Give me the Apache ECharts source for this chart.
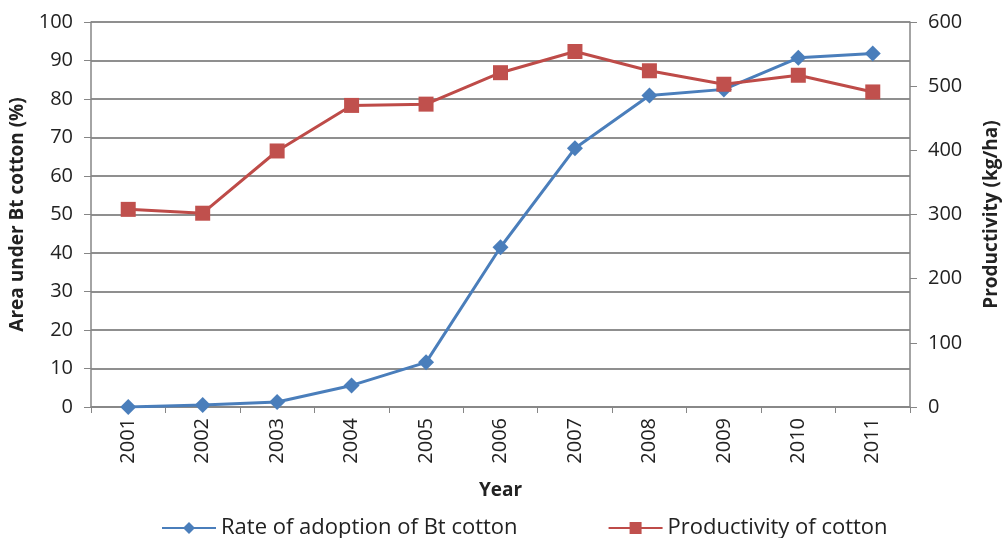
<!DOCTYPE html>
<html><head><meta charset="utf-8">
<script src="https://cdn.jsdelivr.net/npm/echarts@6/dist/echarts.min.js"></script>
<style>html,body{margin:0;padding:0;background:#fff}#c{width:1003px;height:538px}</style>
</head><body><div id="c"></div>
<script>
const years = ['2001','2002','2003','2004','2005','2006','2007','2008','2009','2010','2011'];
const adoption = [0, 0.5, 1.3, 5.6, 11.6, 41.5, 67.2, 80.9, 82.5, 90.7, 91.8];
const productivity = [308, 302, 399, 470, 472, 521, 554, 524, 503, 517, 491];
const leftTicks = {min: 0, max: 100, interval: 10};
const rightTicks = {min: 0, max: 600, interval: 100};

const font = '"Open Sans", "Liberation Sans", sans-serif';
const chart = echarts.init(document.getElementById('c'));
chart.setOption({
  animation: false,
  textStyle: {fontFamily: font},
  grid: {left: 91, right: 93, top: 22, bottom: 131, outerBoundsMode: 'none', containLabel: false},
  legend: {
    top: 512, left: 156, itemWidth: 54, itemHeight: 15, itemGap: 90,
    textStyle: {fontSize: 22, color: '#222', fontFamily: font},
    data: ['Rate of adoption of Bt cotton', 'Productivity of cotton']
  },
  xAxis: {
    type: 'category', data: years, boundaryGap: true,
    name: 'Year', nameLocation: 'middle', nameGap: 74,
    nameTextStyle: {fontSize: 19, fontWeight: 'bold', color: '#222'},
    axisLine: {lineStyle: {color: '#868686', width: 1.5}},
    axisTick: {show: true, length: 6, lineStyle: {color: '#868686'}},
    axisLabel: {rotate: 90, fontSize: 20, color: '#222', margin: 11}
  },
  yAxis: [{
    type: 'value', min: leftTicks.min, max: leftTicks.max, interval: leftTicks.interval,
    name: 'Area under Bt cotton (%)', nameLocation: 'middle', nameGap: 64, nameRotate: 90,
    nameTextStyle: {fontSize: 19, fontWeight: 'bold', color: '#222'},
    axisLine: {show: true, lineStyle: {color: '#868686', width: 1.5}},
    axisTick: {show: true, length: 7, lineStyle: {color: '#868686'}},
    axisLabel: {fontSize: 20, color: '#222', margin: 18},
    splitLine: {lineStyle: {color: '#6a6a6a', width: 1.6}}
  }, {
    type: 'value', position: 'right', min: rightTicks.min, max: rightTicks.max, interval: rightTicks.interval,
    name: 'Productivity (kg/ha)', nameLocation: 'middle', nameGap: 72, nameRotate: 90,
    nameTextStyle: {fontSize: 19, fontWeight: 'bold', color: '#222'},
    axisLine: {show: true, lineStyle: {color: '#868686', width: 1.5}},
    axisTick: {show: true, length: 7, lineStyle: {color: '#868686'}},
    axisLabel: {fontSize: 20, color: '#222', margin: 18},
    splitLine: {show: false}
  }],
  series: [{
    name: 'Rate of adoption of Bt cotton', type: 'line', yAxisIndex: 0, data: adoption,
    symbol: 'diamond', symbolSize: 16,
    lineStyle: {color: '#4a7ebb', width: 3},
    itemStyle: {color: '#4a7ebb'}
  }, {
    name: 'Productivity of cotton', type: 'line', yAxisIndex: 1, data: productivity,
    symbol: 'rect', symbolSize: 15,
    lineStyle: {color: '#be4b48', width: 3},
    itemStyle: {color: '#c0504d'}
  }]
});
</script></body></html>
